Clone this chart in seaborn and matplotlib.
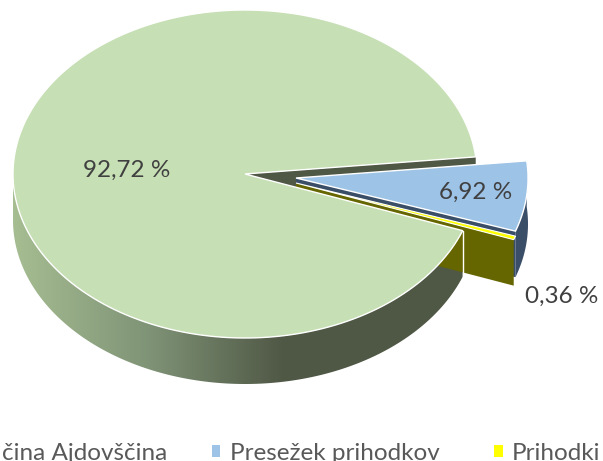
import numpy as np
import matplotlib
matplotlib.use("Agg")
import matplotlib.pyplot as plt
from matplotlib.patches import Polygon, Rectangle
import seaborn as sns

# values
shares = [92.72, 6.92, 0.36]
share_labels = ["92,72 %", "6,92 %", "0,36 %"]
legend_labels = ["čina Ajdovščina", "Presežek prihodkov", "Prihodki"]

top_colors = ["#c6dfb4", "#9dc3e6", "#ffff00"]
side_colors = ["#4f5745", "#3b4e68", "#666600"]

sns.set_theme(style="white")
plt.rcParams['font.family'] = ['Lato', 'DejaVu Sans']

# pie geometry in pixels of the picture
rx, ry, depth = 232, 164, 46
main_c = (245, 174)
blue_c = (296, 178)
yellow_c = (296, 183)
start_angle = 6

# angles of the slices come from the shares
main_sweep = shares[0] / 100 * 360
blue_sweep = shares[1] / 100 * 360
yellow_sweep = shares[2] / 100 * 360
main_a = (start_angle, start_angle + main_sweep)
blue_a = (start_angle - blue_sweep, start_angle)
yellow_a = (start_angle - blue_sweep - yellow_sweep, start_angle - blue_sweep)


def arc(c, a0, a1, n=200, dy=0):
    t = np.radians(np.linspace(a0, a1, n))
    return np.column_stack([c[0] + rx * np.cos(t), c[1] - ry * np.sin(t) + dy])


def cut_face(c, a, color, ax):
    p = arc(c, a, a, n=1)[0]
    ax.add_patch(Polygon([c, p, (p[0], p[1] + depth), (c[0], c[1] + depth)],
                         closed=True, fc=color, ec="none"))


def wall(c, a0, a1):
    top = arc(c, a0, a1)
    low = arc(c, a0, a1, dy=depth)
    return np.vstack([top, low[::-1]])


def top_face(c, a, color, ax, lw=1.0):
    pts = np.vstack([[c], arc(c, a[0], a[1])])
    ax.add_patch(Polygon(pts, closed=True, fc=color, ec="white", lw=lw))


fig = plt.figure(figsize=(6.03, 4.61), dpi=100)
ax = fig.add_axes([0, 0, 1, 1])

cut_face(main_c, main_a[0], side_colors[0], ax)

# blue slice
ax.add_patch(Polygon(wall(blue_c, blue_a[0], blue_a[1]), closed=True, fc=side_colors[1], ec="none"))
cut_face(blue_c, blue_a[0], side_colors[1], ax)
top_face(blue_c, blue_a, top_colors[1], ax)

# yellow slice
cut_face(yellow_c, yellow_a[0], side_colors[2], ax)
top_face(yellow_c, yellow_a, top_colors[2], ax, lw=0.8)

# main slice: shaded outer wall, over the cut faces it hides
wall_cmap = sns.blend_palette(["#a6bd92", "#7f9376", "#4f5745"], as_cmap=True)
shade = np.clip((np.linspace(0, 603, 603) - 13) / 272, 0, 1)[None, :]
im = ax.imshow(shade, cmap=wall_cmap, extent=(0, 603, 461, 0), aspect="auto", vmin=0, vmax=1)
wall_pts = wall(main_c, 180, main_a[1])
im.set_clip_path(Polygon(wall_pts, closed=True, transform=ax.transData))
end = arc(main_c, main_a[1], main_a[1], n=1)[0]
ax.plot([end[0], end[0]], [end[1], end[1] + depth], color="white", lw=1)

# top of main slice goes last
top_face(main_c, main_a, top_colors[0], ax)

# labels
ax.text(127, 170, share_labels[0], fontsize=17.5, color="#404040", ha="center", va="center")
ax.text(476, 192, share_labels[1], fontsize=17.5, color="#404040", ha="center", va="center")
ax.text(562, 296, share_labels[2], fontsize=17.5, color="#404040", ha="center", va="center")

# legend, cut by the picture edges
ax.text(2, 460, legend_labels[0], fontsize=17.5, color="#595959", ha="left", va="baseline")
ax.add_patch(Rectangle((212, 445), 8, 12, fc=top_colors[1], ec="none"))
ax.text(230, 460, legend_labels[1], fontsize=17.5, color="#595959", ha="left", va="baseline")
ax.add_patch(Rectangle((494, 445), 9, 12, fc=top_colors[2], ec="none"))
ax.text(512, 460, legend_labels[2], fontsize=17.5, color="#595959", ha="left", va="baseline")

ax.set_xlim(0, 603)
ax.set_ylim(461, 0)
ax.axis("off")
fig.savefig("out.png", dpi=100, facecolor="white")
